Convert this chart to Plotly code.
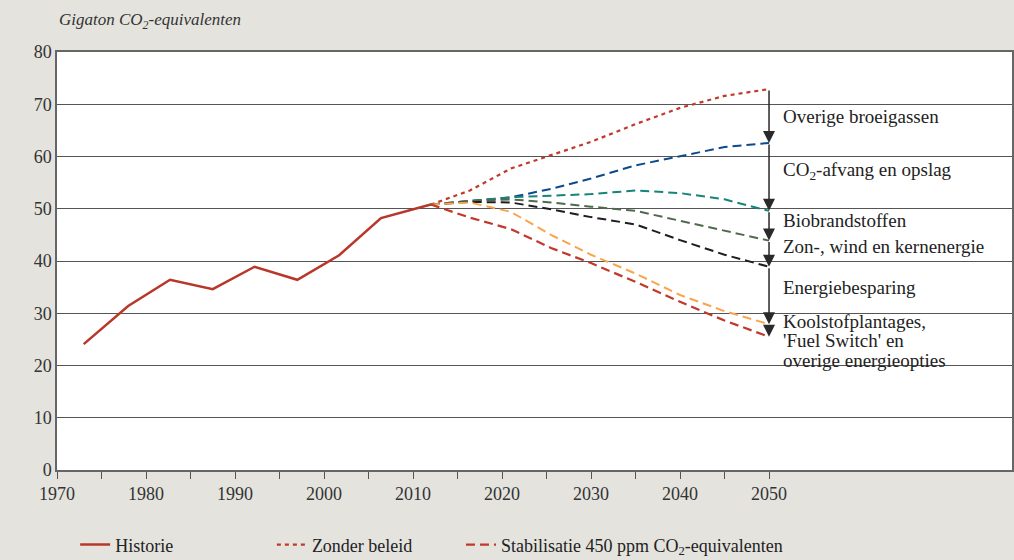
import plotly.graph_objects as go

# historical emissions
hist_years = [1973, 1978, 1982.7, 1987.5, 1992.2, 1997, 2001.7, 2006.4, 2012]
hist_vals = [24.1, 31.4, 36.4, 34.6, 38.9, 36.4, 41.1, 48.2, 50.8]

# scenario years (shared)
scen_years = [2012, 2016.4, 2021, 2025.5, 2030, 2035, 2040, 2045, 2050]

zonder_beleid = [50.8, 53.5, 57.7, 60.3, 62.8, 66.2, 69.3, 71.6, 72.9]
na_broeigassen = [50.8, 51.5, 52.2, 53.8, 55.8, 58.3, 60.1, 61.8, 62.6]
na_co2_opslag = [50.8, 51.5, 52.2, 52.5, 52.8, 53.5, 53.0, 51.8, 49.6]
na_biobrandstof = [50.8, 51.5, 51.8, 51.2, 50.4, 49.6, 47.7, 45.8, 43.9]
na_zon_wind = [50.8, 51.3, 51.2, 49.9, 48.4, 47.0, 44.0, 41.2, 38.9]
na_besparing = [50.8, 51.2, 49.4, 45.0, 41.2, 37.6, 33.5, 30.4, 27.9]
stabilisatie = [50.8, 48.3, 46.1, 42.5, 39.6, 36.0, 32.2, 28.6, 25.5]

labels = [
    ("Overige broeigassen", 67.6),
    ("CO<sub>2</sub>-afvang en opslag", 57.2),
    ("Biobrandstoffen", 47.8),
    ("Zon-, wind en kernenergie", 42.7),
    ("Energiebesparing", 35.0),
    ("Koolstofplantages,", 28.4),
    ("'Fuel Switch' en", 24.7),
    ("overige energieopties", 21.0),
]

serif = "Liberation Serif"
bg = "#e4e3de"

fig = go.Figure()

fig.add_trace(go.Scatter(x=hist_years, y=hist_vals, mode="lines", name="Historie",
                         legend="legend",
                         line=dict(color="#b9372a", width=2.5)))
fig.add_trace(go.Scatter(x=scen_years, y=zonder_beleid, mode="lines", name="Zonder beleid",
                         legend="legend2",
                         line=dict(color="#c0392b", width=2.2, dash="4px,4px")))

# intermediate scenario lines
mid = [
    (na_broeigassen, "#0b4a8b"),
    (na_co2_opslag, "#15857a"),
    (na_biobrandstof, "#4f6a4c"),
    (na_zon_wind, "#1e1e1e"),
    (na_besparing, "#f8a54e"),
]
for vals, col in mid:
    fig.add_trace(go.Scatter(x=scen_years, y=vals, mode="lines", showlegend=False,
                             line=dict(color=col, width=2, dash="9px,5px")))

fig.add_trace(go.Scatter(x=scen_years, y=stabilisatie, mode="lines",
                         name="Stabilisatie 450 ppm CO<sub>2</sub>-equivalenten",
                         legend="legend3",
                         line=dict(color="#c0392b", width=2.2, dash="9px,5px")))

# arrows at 2050 from one level to the next
levels = [zonder_beleid[-1], na_broeigassen[-1], na_co2_opslag[-1], na_biobrandstof[-1],
          na_zon_wind[-1], na_besparing[-1], stabilisatie[-1]]
for top, bot in zip(levels[:-1], levels[1:]):
    fig.add_annotation(x=2050, y=bot, ax=2050, ay=top, xref="x", yref="y",
                       axref="x", ayref="y", text="", showarrow=True,
                       arrowhead=2, arrowsize=1.6, arrowwidth=1.5, arrowcolor="#2a2a2a",
                       standoff=0)

for txt, yv in labels:
    fig.add_annotation(x=2051.3, y=yv, text=txt, showarrow=False, xanchor="left",
                       yanchor="middle", font=dict(family=serif, size=19, color="#222"))

fig.add_annotation(x=0, y=1.075, xref="paper", yref="paper", xanchor="left", yanchor="middle",
                   text="<i>Gigaton CO<sub>2</sub>-equivalenten</i>", showarrow=False,
                   font=dict(family=serif, size=17, color="#333"))

tickvals = list(range(1970, 2051, 5))
ticktext = [str(v) if v % 10 == 0 else "" for v in tickvals]

leg = dict(orientation="h", yref="container", y=0.027, xanchor="left", yanchor="middle",
           bgcolor="rgba(0,0,0,0)", font=dict(family=serif, size=18, color="#222"))

fig.update_layout(
    width=1014, height=560,
    margin=dict(l=57, r=2, t=52, b=90),
    paper_bgcolor=bg, plot_bgcolor="white",
    font=dict(family=serif, size=18, color="#333"),
    legend=dict(leg, x=0.019),
    legend2=dict(leg, x=0.225),
    legend3=dict(leg, x=0.423),
    xaxis=dict(range=[1970, 2077.3], tickvals=tickvals, ticktext=ticktext,
               ticks="outside", ticklen=7, tickcolor="#555", showgrid=False,
               showline=True, linecolor="#666", linewidth=1.5, mirror=True,
               zeroline=False, automargin=False, tickfont=dict(size=18)),
    yaxis=dict(range=[0, 80], dtick=10, showgrid=True, gridcolor="#555", gridwidth=1,
               showline=True, linecolor="#666", linewidth=1.5, mirror=True,
               zeroline=False, automargin=False, ticks="", tickfont=dict(size=18)),
)

fig.write_html("out.html", config={"displayModeBar": False},
               post_script="document.body.style.margin='0';document.body.style.background='%s';" % bg)
